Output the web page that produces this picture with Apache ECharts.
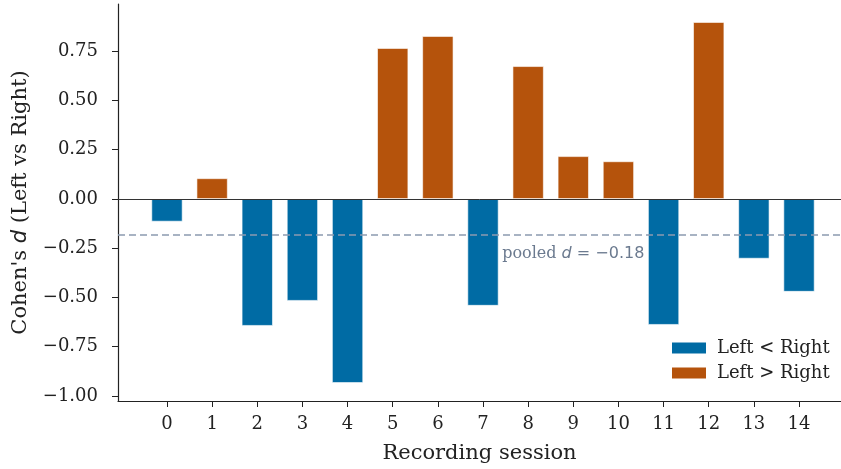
<!DOCTYPE html>
<html><head><meta charset="utf-8">
<script src="https://cdn.jsdelivr.net/npm/echarts@6/dist/echarts.min.js"></script>
<style>html,body{margin:0;padding:0;background:#fff}#c{width:841px;height:469px}</style>
</head><body><div id="c"></div>
<script>
const sessions = [0,1,2,3,4,5,6,7,8,9,10,11,12,13,14];
const cohensD = [-0.115,0.104,-0.644,-0.517,-0.934,0.765,0.826,-0.542,0.673,0.216,0.190,-0.639,0.897,-0.303,-0.471];
const pooledD = -0.1755;
const yTicks = [-1.0,-0.75,-0.5,-0.25,0,0.25,0.5,0.75];
const seriesNames = ['Left < Right','Left > Right'];
const colors = ['#006BA4','#B5530C'];

const serif = 'DejaVu Serif';
const fmt = v => (v<0?'\u2212':'') + Math.abs(v).toFixed(2);
const negData = sessions.map((s,i)=>cohensD[i]<0?[s,cohensD[i]]:null).filter(Boolean);
const posData = sessions.map((s,i)=>cohensD[i]>=0?[s,cohensD[i]]:null).filter(Boolean);

const chart = echarts.init(document.getElementById('c'));
chart.setOption({
  animation:false,
  backgroundColor:'#fff',
  grid:{left:118,right:0,top:4,bottom:68,containLabel:false,outerBoundsMode:'none'},
  legend:{orient:'vertical',left:670,top:339,padding:0,itemWidth:36,itemHeight:13,itemGap:7,
    icon:'rect',textStyle:{fontFamily:serif,fontSize:18,color:'#222',padding:[0,0,0,5]},data:seriesNames},
  xAxis:{type:'value',min:-1.085,max:14.93,
    name:'Recording session',nameLocation:'middle',nameGap:42,
    nameTextStyle:{fontFamily:serif,fontSize:21,color:'#222'},
    axisLine:{show:true,onZero:false,lineStyle:{color:'#222',width:1.2}},
    axisTick:{show:true,length:6,lineStyle:{color:'#222'},customValues:sessions},
    axisLabel:{fontFamily:serif,fontSize:18,color:'#222',margin:14,customValues:sessions,formatter:v=>String(v)},
    splitLine:{show:false}},
  yAxis:{type:'value',min:-1.026,max:0.989,
    name:'{a|Cohen\'s }{b|d}{a| (Left vs Right)}',nameLocation:'middle',nameGap:87,nameRotate:90,
    nameTextStyle:{rich:{a:{fontFamily:serif,fontSize:21,color:'#222'},b:{fontFamily:'DejaVu Sans',fontStyle:'italic',fontSize:21,color:'#222'}}},
    axisLine:{show:true,onZero:false,lineStyle:{color:'#222',width:1.2}},
    axisTick:{show:true,length:6,lineStyle:{color:'#222'},customValues:yTicks},
    axisLabel:{fontFamily:serif,fontSize:18,color:'#222',margin:20,customValues:yTicks,formatter:fmt},
    splitLine:{show:false}},
  series:[
    {name:seriesNames[0],type:'bar',data:negData,barWidth:31,barGap:'-100%',
      itemStyle:{color:colors[0],borderColor:'#fff',borderWidth:0.6},
      markLine:{silent:true,symbol:'none',label:{show:false},
        data:[{yAxis:0,lineStyle:{color:'#333',width:1,type:'solid'}},
              {yAxis:pooledD,lineStyle:{color:'#8C9BB0',width:1.6,type:[7,4]}}]},
      markPoint:{symbol:'circle',symbolSize:0,
        data:[{coord:[9,pooledD],
          label:{show:true,position:'inside',offset:[0,20],
            formatter:'{a|pooled }{b|d}{c| = ' + fmt(pooledD) + '}',
            rich:{a:{fontFamily:serif,fontSize:16,color:'#6B7A8F'},
                  b:{fontFamily:'DejaVu Sans',fontStyle:'italic',fontSize:16,color:'#6B7A8F'},
                  c:{fontFamily:'DejaVu Sans',fontSize:16,color:'#6B7A8F'}}}}]}},
    {name:seriesNames[1],type:'bar',data:posData,barWidth:31,
      itemStyle:{color:colors[1],borderColor:'#fff',borderWidth:0.6}}
  ]
});
</script></body></html>
